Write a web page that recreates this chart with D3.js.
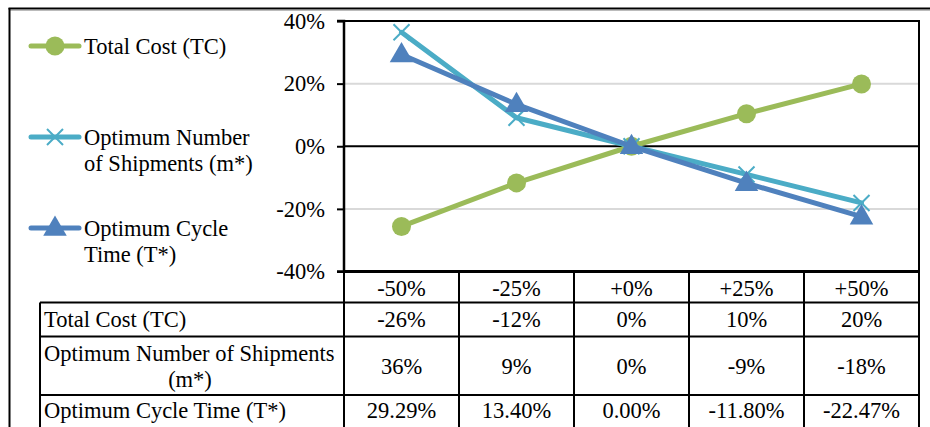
<!DOCTYPE html>
<html>
<head>
<meta charset="utf-8">
<script src="https://cdnjs.cloudflare.com/ajax/libs/d3/7.8.5/d3.min.js"></script>
<style>
  html, body { margin: 0; padding: 0; background: #fff; }
  svg, svg text { font-family: "Liberation Serif", "Times New Roman", "DejaVu Serif", serif; }
</style>
</head>
<body>
<svg id="chart" width="930" height="427"></svg>
<script>
// Sensitivity of the model outputs to a change in the parameter
const categories = ["-50%", "-25%", "+0%", "+25%", "+50%"];
const seriesNames = ["Total Cost (TC)", "Optimum Number of Shipments (m*)", "Optimum Cycle Time (T*)"];
const legendLines = [["Total Cost (TC)"], ["Optimum Number", "of Shipments (m*)"], ["Optimum Cycle", "Time (T*)"]];
const tableLabels = [["Total Cost (TC)"], ["Optimum Number of Shipments", "(m*)"], ["Optimum Cycle Time (T*)"]];
const totalCost = [-0.256, -0.117, 0.0, 0.104, 0.199];
const shipments = [0.364, 0.091, 0.0, -0.090, -0.181];
const cycleTime = [0.2929, 0.1340, 0.0000, -0.1180, -0.2247];
const yTicks = [-0.4, -0.2, 0, 0.2, 0.4];

const colors = ["#9BBB59", "#4BACC6", "#4F81BD"];
const markers = ["circle", "cross", "triangle"];
const locale = d3.formatLocale({ decimal: ".", thousands: ",", grouping: [3], currency: ["", ""], minus: "-", percent: "%" });
const formats = [locale.format(".0%"), locale.format(".0%"), locale.format(".2%")];
const series = [totalCost, shipments, cycleTime];

const FONT = "'Liberation Serif', 'Times New Roman', 'DejaVu Serif', serif";
const svg = d3.select("#chart").attr("font-family", FONT);
const FS = 22.5;

// plot area
const px0 = 344, px1 = 919, py0 = 21, py1 = 271.5;
const x = d3.scaleBand().domain(categories).range([px0, px1]);
const y = d3.scaleLinear().domain([-0.4, 0.4]).range([py1, py0]);

// outer frame
svg.append("line").attr("x1", 9).attr("x2", 930).attr("y1", 10.5).attr("y2", 10.5).attr("stroke", "#bbb").attr("stroke-width", 1);
svg.append("line").attr("x1", 8.5).attr("x2", 930).attr("y1", 8.5).attr("y2", 8.5).attr("stroke", "#000").attr("stroke-width", 2);
svg.append("line").attr("x1", 9.5).attr("x2", 9.5).attr("y1", 8).attr("y2", 427).attr("stroke", "#000").attr("stroke-width", 2);

// gridlines
svg.append("g").selectAll("line").data([0.2, -0.2]).join("line")
  .attr("x1", px0).attr("x2", px1).attr("y1", d => y(d)).attr("y2", d => y(d))
  .attr("stroke", "#d9d9d9").attr("stroke-width", 2);
// zero line and plot frame
svg.append("line").attr("x1", px0).attr("x2", px1).attr("y1", y(0)).attr("y2", y(0)).attr("stroke", "#000").attr("stroke-width", 2);
svg.append("line").attr("x1", px0).attr("x2", px1).attr("y1", y(0.4)).attr("y2", y(0.4)).attr("stroke", "#000").attr("stroke-width", 2);
svg.append("line").attr("x1", px1).attr("x2", px1).attr("y1", y(0.4) - 1).attr("y2", 430).attr("stroke", "#000").attr("stroke-width", 2);

// y axis
const yAxis = svg.append("g").attr("transform", `translate(${px0},0)`)
  .call(d3.axisLeft(y).tickValues(yTicks).tickFormat(locale.format(".0%")).tickSize(7).tickPadding(12));
yAxis.attr("font-family", FONT).attr("font-size", FS);
yAxis.select(".domain").attr("stroke", "#000").attr("stroke-width", 2.5).attr("d", `M-7,${y(0.4)}H0V${y(-0.4)}H-7`);
yAxis.selectAll(".tick line").attr("stroke", "#000").attr("stroke-width", 2);
yAxis.selectAll(".tick text").attr("fill", "#000");

// lines and markers
const line = d3.line().x((d, i) => x(categories[i]) + x.bandwidth() / 2).y(d => y(d));
function drawMarker(g, type, color, cx, cy) {
  if (type === "circle") {
    g.append("circle").attr("cx", cx).attr("cy", cy).attr("r", 9.5).attr("fill", color);
  } else if (type === "triangle") {
    const s = d3.symbol().type(d3.symbolTriangle).size(240);
    g.append("path").attr("d", s()).attr("transform", `translate(${cx},${cy + 1})`).attr("fill", color);
  } else {
    const r = 8;
    g.append("path").attr("d", `M${cx - r},${cy - r}L${cx + r},${cy + r}M${cx - r},${cy + r}L${cx + r},${cy - r}`)
      .attr("stroke", color).attr("stroke-width", 2).attr("fill", "none");
  }
}
series.forEach((vals, k) => {
  const g = svg.append("g");
  g.append("path").attr("d", line(vals)).attr("fill", "none").attr("stroke", colors[k])
    .attr("stroke-width", 5).attr("stroke-linejoin", "round").attr("stroke-linecap", "round");
  vals.forEach((v, i) => drawMarker(g, markers[k], colors[k], x(categories[i]) + x.bandwidth() / 2, y(v)));
});

// legend
const legendY = [46, 137, 228];
legendLines.forEach((lines, k) => {
  const g = svg.append("g");
  g.append("line").attr("x1", 31).attr("x2", 79).attr("y1", legendY[k]).attr("y2", legendY[k])
    .attr("stroke", colors[k]).attr("stroke-width", 5).attr("stroke-linecap", "round");
  drawMarker(g, markers[k], colors[k], 55, legendY[k]);
  lines.forEach((t, j) => {
    g.append("text").attr("x", 84).attr("y", legendY[k] + j * 26).attr("dy", "0.35em")
      .attr("font-size", FS).attr("fill", "#000").text(t);
  });
});

// data table
const rowEdges = [271.5, 302.5, 336.5, 395, 430];
const tg = svg.append("g");
const tline = (x1, y1, x2, y2, w) => tg.append("line").attr("x1", x1).attr("y1", y1).attr("x2", x2).attr("y2", y2).attr("stroke", "#000").attr("stroke-width", w || 2);
// horizontal rules
tline(px0, rowEdges[0], px1, rowEdges[0], 3);
tline(px0, rowEdges[1], px1, rowEdges[1]);
tline(40, rowEdges[1], px0, rowEdges[1]);
tline(40, rowEdges[2], px1, rowEdges[2]);
tline(40, rowEdges[3], px1, rowEdges[3]);
// vertical rules
tline(40, rowEdges[1], 40, 430);
categories.forEach(c => tline(x(c), rowEdges[0], x(c), 430));
// header
categories.forEach(c => {
  tg.append("text").attr("x", x(c) + x.bandwidth() / 2).attr("y", (rowEdges[0] + rowEdges[1]) / 2 + 1)
    .attr("dy", "0.35em").attr("text-anchor", "middle").attr("font-size", FS).text(c);
});
// rows
series.forEach((vals, k) => {
  const cy = (rowEdges[k + 1] + rowEdges[k + 2]) / 2 + (k === 2 ? -2 : 0);
  const lines = tableLabels[k];
  lines.forEach((t, j) => {
    const ty = cy + (j - (lines.length - 1) / 2) * 26;
    tg.append("text").attr("x", lines.length > 1 && j > 0 ? 190 : 44).attr("y", ty).attr("dy", "0.35em")
      .attr("text-anchor", lines.length > 1 && j > 0 ? "middle" : "start").attr("font-size", FS).text(t);
  });
  vals.forEach((v, i) => {
    tg.append("text").attr("x", x(categories[i]) + x.bandwidth() / 2).attr("y", cy).attr("dy", "0.35em")
      .attr("text-anchor", "middle").attr("font-size", FS).text(formats[k](v));
  });
});
</script>
</body>
</html>
